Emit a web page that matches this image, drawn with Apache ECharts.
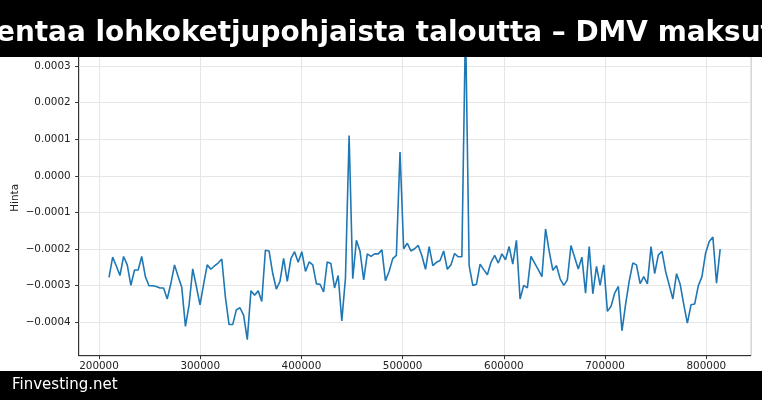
<!DOCTYPE html>
<html><head><meta charset="utf-8">
<script src="https://cdn.jsdelivr.net/npm/echarts@6/dist/echarts.min.js"></script>
<style>html,body{margin:0;padding:0;background:#fff}#c{width:762px;height:400px}</style>
</head><body><div id="c"></div>
<script>
// Block heights (x)
const blocks = [
 209900,213500,217100,220700,224300,227900,231500,235100,238700,242200,
 245800,249400,253000,256600,260200,263800,267400,271000,274600,278200,
 281800,285400,289000,292600,296200,299800,303300,306900,310500,314100,
 317700,321300,324900,328500,332100,335700,339300,342900,346500,350100,
 353700,357300,360800,364400,368000,371600,375200,378800,382400,386000,
 389600,393200,396800,400400,404000,407600,411200,414800,418400,421900,
 425500,429100,432700,436300,439900,443500,447100,450700,454300,457900,
 461500,465100,468700,472300,475900,479500,483000,486600,490200,493800,
 497400,501000,504600,508200,511800,515400,519000,522600,526200,529800,
 533400,537000,540500,544100,547700,551300,554900,558500,562100,565700,
 569300,572900,576500,580100,583700,587300,590900,594500,598100,601600,
 605200,608800,612400,616000,619600,623200,626800,630400,634000,637600,
 641200,644800,648400,652000,655600,659200,662700,666300,669900,673500,
 677100,680700,684300,687900,691500,695100,698700,702300,705900,709500,
 713100,716700,720200,723800,727400,731000,734600,738200,741800,745400,
 749000,752600,756200,759800,763400,767000,770600,774200,777800,781300,
 784900,788500,792100,795700,799300,802900,806500,810100,813700
];
// Hinta (price) values
const hinta = [
 -2.77e-4,-2.22e-4,-2.46e-4,-2.72e-4,-2.20e-4,-2.43e-4,-2.99e-4,-2.57e-4,-2.57e-4,-2.20e-4,
 -2.75e-4,-3.00e-4,-3.00e-4,-3.02e-4,-3.06e-4,-3.06e-4,-3.36e-4,-2.94e-4,-2.43e-4,-2.75e-4,
 -3.05e-4,-4.11e-4,-3.52e-4,-2.54e-4,-3.02e-4,-3.52e-4,-2.97e-4,-2.43e-4,-2.55e-4,-2.46e-4,
 -2.38e-4,-2.27e-4,-3.32e-4,-4.06e-4,-4.06e-4,-3.66e-4,-3.60e-4,-3.81e-4,-4.47e-4,-3.14e-4,
 -3.26e-4,-3.14e-4,-3.43e-4,-2.03e-4,-2.05e-4,-2.66e-4,-3.09e-4,-2.88e-4,-2.25e-4,-2.88e-4,
 -2.26e-4,-2.07e-4,-2.36e-4,-2.07e-4,-2.61e-4,-2.35e-4,-2.43e-4,-2.95e-4,-2.96e-4,-3.17e-4,
 -2.35e-4,-2.39e-4,-3.06e-4,-2.72e-4,-3.96e-4,-2.79e-4,1.10e-4,-2.81e-4,-1.76e-4,-2.06e-4,
 -2.84e-4,-2.13e-4,-2.20e-4,-2.13e-4,-2.13e-4,-2.02e-4,-2.86e-4,-2.61e-4,-2.26e-4,-2.17e-4,
 0.65e-4,-1.99e-4,-1.84e-4,-2.05e-4,-1.99e-4,-1.90e-4,-2.18e-4,-2.55e-4,-1.93e-4,-2.45e-4,
 -2.36e-4,-2.31e-4,-2.05e-4,-2.55e-4,-2.43e-4,-2.12e-4,-2.21e-4,-2.21e-4,4.20e-4,-2.45e-4,
 -2.99e-4,-2.96e-4,-2.41e-4,-2.56e-4,-2.70e-4,-2.36e-4,-2.17e-4,-2.38e-4,-2.13e-4,-2.29e-4,
 -1.93e-4,-2.41e-4,-1.76e-4,-3.36e-4,-2.99e-4,-3.06e-4,-2.20e-4,-2.38e-4,-2.56e-4,-2.75e-4,
 -1.45e-4,-2.06e-4,-2.58e-4,-2.45e-4,-2.81e-4,-2.99e-4,-2.84e-4,-1.90e-4,-2.22e-4,-2.54e-4,
 -2.22e-4,-3.20e-4,-1.93e-4,-3.22e-4,-2.47e-4,-2.99e-4,-2.43e-4,-3.70e-4,-3.56e-4,-3.20e-4,
 -3.02e-4,-4.23e-4,-3.52e-4,-2.88e-4,-2.38e-4,-2.43e-4,-2.94e-4,-2.75e-4,-2.95e-4,-1.93e-4,
 -2.67e-4,-2.16e-4,-2.06e-4,-2.61e-4,-2.99e-4,-3.36e-4,-2.67e-4,-2.96e-4,-3.52e-4,-4.02e-4,
 -3.52e-4,-3.50e-4,-3.00e-4,-2.75e-4,-2.11e-4,-1.79e-4,-1.67e-4,-2.93e-4,-2.00e-4
];
const titleText = 'entaa lohkoketjupohjaista taloutta \u2013 DMV maksut';
const footerText = 'Finvesting.net';
const yName = 'Hinta';

const data = blocks.map((b, i) => [b, hinta[i]]);
const chart = echarts.init(document.getElementById('c'), null, {renderer: 'canvas'});
const FONT = '"DejaVu Sans", sans-serif';
chart.setOption({
  animation: false,
  backgroundColor: '#fff',
  grid: {left: 78.7, right: 11.3, top: 40, bottom: 44.3, show: true, borderColor: '#333', borderWidth: 1,
    backgroundColor: '#fff', containLabel: false, outerBoundsMode: 'none'},
  xAxis: {
    type: 'value', min: 179940, max: 843870, splitNumber: 6,
    axisLine: {show: true, onZero: false, lineStyle: {color: '#333', width: 1}},
    axisTick: {show: true, inside: false, length: 3.5, lineStyle: {color: '#333'}},
    axisLabel: {showMinLabel: false, showMaxLabel: false, margin: 6, color: '#222', fontSize: 10.4, fontFamily: FONT,
      formatter: v => String(Math.round(v))},
    splitLine: {show: true, lineStyle: {color: '#e6e6e6', width: 1}}
  },
  yAxis: {
    type: 'value', min: -0.000491, max: 0.000371, splitNumber: 8,
    name: yName, nameLocation: 'middle', nameGap: 58, nameRotate: 90, nameMoveOverlap: false,
    nameTextStyle: {color: '#222', fontSize: 10.4, fontFamily: FONT},
    axisLine: {show: true, onZero: false, lineStyle: {color: '#333', width: 1}},
    axisTick: {show: true, inside: false, length: 3.5, lineStyle: {color: '#333'}},
    axisLabel: {showMinLabel: false, showMaxLabel: false, margin: 8, color: '#222', fontSize: 10.4, fontFamily: FONT,
      formatter: v => (Math.abs(v) < 1e-12 ? 0 : v).toFixed(4).replace('-', '\u2212')},
    splitLine: {show: true, lineStyle: {color: '#e6e6e6', width: 1}}
  },
  series: [{
    type: 'line', data: data, showSymbol: false, clip: true,
    lineStyle: {color: '#1f77b4', width: 1.6}, itemStyle: {color: '#1f77b4'}
  }],
  graphic: [
    {type: 'rect', x: 0, y: 0, shape: {x: 0, y: 0, width: 762, height: 57}, style: {fill: '#000'}, z: 100},
    {type: 'text', x: -4, y: 34, z: 101, style: {text: titleText, fill: '#fff', font: 'bold 27.9px "DejaVu Sans"', align: 'left', verticalAlign: 'middle'}},
    {type: 'rect', x: 0, y: 0, shape: {x: 0, y: 371, width: 762, height: 29}, style: {fill: '#000'}, z: 100},
    {type: 'text', x: 12, y: 385, z: 101, style: {text: footerText, fill: '#fff', font: '15px "DejaVu Sans"', align: 'left', verticalAlign: 'middle'}}
  ]
});
</script></body></html>
